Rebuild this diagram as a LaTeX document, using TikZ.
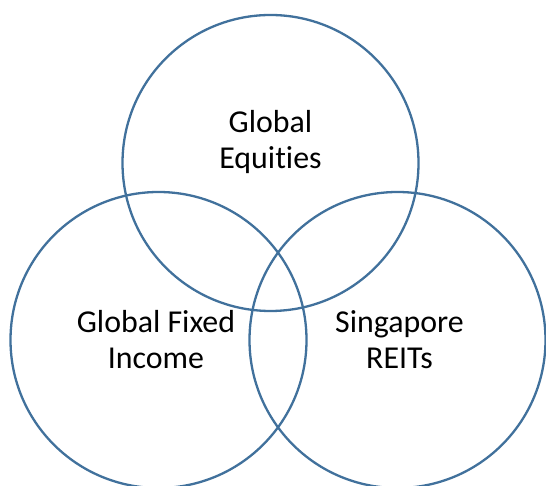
\documentclass[tikz,border=0pt]{standalone}
\usepackage{fontspec}
\setmainfont{Carlito}[Ligatures={NoCommon,NoContextual}]
\definecolor{ringblue}{HTML}{41719C}

\begin{document}
\begin{tikzpicture}[x=1bp,y=1bp]
            \tikzset{ring/.style={draw=ringblue,line width=2.3bp},
                     fundtext/.style={align=center,anchor=base,font=\fontsize{32}{37}\selectfont}}
            \useasboundingbox (0,0) rectangle (546,486);

            \draw[ring] (270.5,323) circle[radius=148];
            \draw[ring] (158.5,146) circle[radius=148];
            \draw[ring] (397.5,146) circle[radius=148];

            \node[fundtext] (equities) at (270.5,317) {Global\\Equities};
            \node[fundtext] (fixedinc) at (156,117) {Global Fixed\\Income};
            \node[fundtext] (reits) at (399.5,117) {Singapore\\REITs};
        \end{tikzpicture}
\end{document}
